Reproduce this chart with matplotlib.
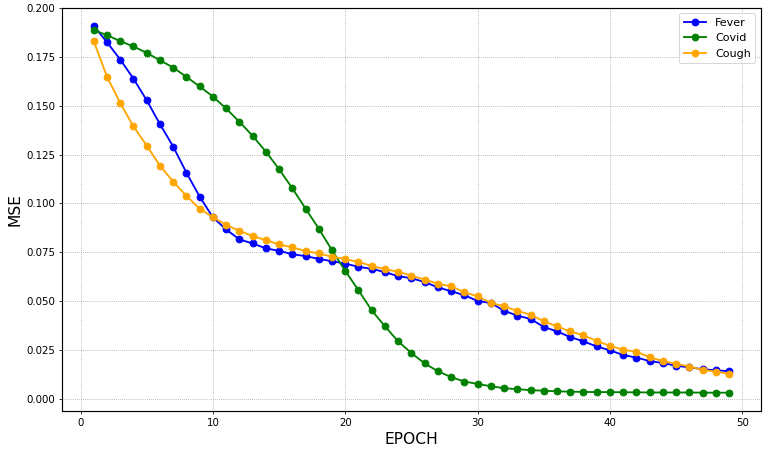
import numpy as np
import matplotlib
matplotlib.use("Agg")
import matplotlib.pyplot as plt

epochs = list(range(1, 50))

fever = [0.1910, 0.1827, 0.1738, 0.1640, 0.1529, 0.1407, 0.1292, 0.1158, 0.1035, 0.0929,
         0.0867, 0.0816, 0.0795, 0.0770, 0.0757, 0.0740, 0.0730, 0.0716, 0.0704, 0.0692,
         0.0675, 0.0665, 0.0648, 0.0627, 0.0617, 0.0597, 0.0570, 0.0550, 0.0530, 0.0500,
         0.0490, 0.0450, 0.0425, 0.0408, 0.0367, 0.0344, 0.0315, 0.0293, 0.0267, 0.0247,
         0.0223, 0.0210, 0.0192, 0.0182, 0.0168, 0.0160, 0.0150, 0.0145, 0.0140]

covid = [0.1889, 0.1863, 0.1832, 0.1805, 0.1772, 0.1734, 0.1697, 0.1649, 0.1600, 0.1548,
         0.1487, 0.1419, 0.1347, 0.1266, 0.1176, 0.1078, 0.0974, 0.0871, 0.0760, 0.0655,
         0.0555, 0.0452, 0.0370, 0.0293, 0.0233, 0.0180, 0.0140, 0.0110, 0.0087, 0.0075,
         0.0063, 0.0053, 0.0048, 0.0043, 0.0040, 0.0037, 0.0035, 0.0034, 0.0033, 0.0033,
         0.0032, 0.0032, 0.0031, 0.0031, 0.0031, 0.0031, 0.0030, 0.0030, 0.0030]

cough = [0.1832, 0.1650, 0.1515, 0.1395, 0.1297, 0.1194, 0.1112, 0.1039, 0.0973, 0.0930,
         0.0890, 0.0860, 0.0833, 0.0812, 0.0790, 0.0775, 0.0756, 0.0744, 0.0727, 0.0715,
         0.0700, 0.0680, 0.0663, 0.0650, 0.0630, 0.0610, 0.0588, 0.0576, 0.0545, 0.0524,
         0.0490, 0.0473, 0.0449, 0.0430, 0.0396, 0.0370, 0.0344, 0.0324, 0.0295, 0.0270,
         0.0250, 0.0240, 0.0212, 0.0192, 0.0178, 0.0164, 0.0147, 0.0138, 0.0127]

fig = plt.figure(figsize=(767 / 70, 449 / 70), dpi=70)
ax = fig.add_subplot(111)
fig.subplots_adjust(left=0.0808, right=0.992, top=0.983, bottom=0.0846)

ax.plot(epochs, fever, marker='o', color='blue', label='Fever', lw=1.9, ms=7)
ax.plot(epochs, covid, marker='o', color='green', label='Covid', lw=1.9, ms=7)
ax.plot(epochs, cough, marker='o', color='orange', label='Cough', lw=1.9, ms=7)

ax.set_xlabel('EPOCH', fontsize=16)
ax.set_ylabel('MSE', fontsize=16)
ax.tick_params(labelsize=10.5)
for s in ax.spines.values():
    s.set_linewidth(1.2)
ax.grid(True, linestyle=':', color='gray', alpha=0.8)
ax.legend(loc='upper right', fontsize=11.5)

fig.savefig('out.png', dpi=70)
